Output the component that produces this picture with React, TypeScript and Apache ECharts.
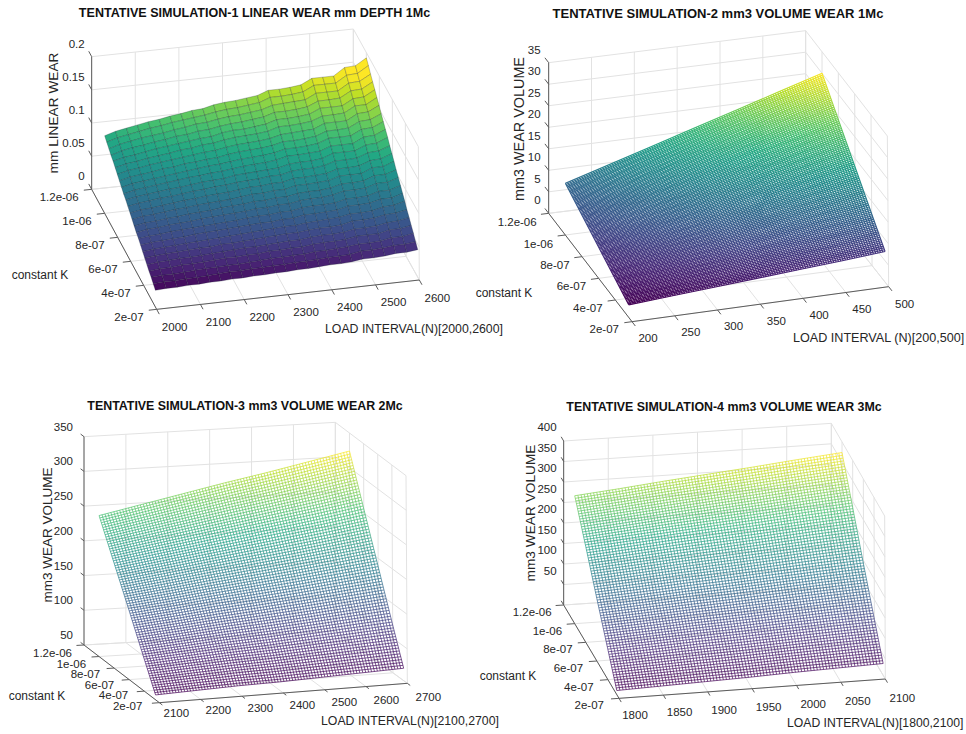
import React, { useEffect, useRef } from "react";
import * as echarts from "echarts";

const kTicks = [2e-7, 4e-7, 6e-7, 8e-7, 1e-6, 1.2e-6];
const kLabels = ["2e-07", "4e-07", "6e-07", "8e-07", "1e-06", "1.2e-06"];

const titles = [
  "TENTATIVE SIMULATION-1 LINEAR WEAR mm DEPTH 1Mc",
  "TENTATIVE SIMULATION-2 mm3 VOLUME WEAR 1Mc",
  "TENTATIVE SIMULATION-3 mm3 VOLUME WEAR 2Mc",
  "TENTATIVE SIMULATION-4 mm3 VOLUME WEAR 3Mc",
];
const loadTitles = ["LOAD INTERVAL(N)[2000,2600]", "LOAD INTERVAL (N)[200,500]", "LOAD INTERVAL(N)[2100,2700]", "LOAD INTERVAL(N)[1800,2100]"];
const zTitles = ["mm LINEAR WEAR", "mm3 WEAR VOLUME", "mm3 WEAR VOLUME", "mm3 WEAR VOLUME"];

const loadTicks1 = [2000, 2100, 2200, 2300, 2400, 2500, 2600];
const loadTicks2 = [200, 250, 300, 350, 400, 450, 500];
const loadTicks3 = [2100, 2200, 2300, 2400, 2500, 2600, 2700];
const loadTicks4 = [1800, 1850, 1900, 1950, 2000, 2050, 2100];
const zTicks1 = [0, 0.05, 0.1, 0.15, 0.2];
const zTicks2 = [0, 5, 10, 15, 20, 25, 30, 35];
const zTicks3 = [50, 100, 150, 200, 250, 300, 350];
const zTicks4 = [0, 50, 100, 150, 200, 250, 300, 350, 400];

const load1 = [2000, 2025, 2050, 2075, 2100, 2125, 2150, 2175, 2200, 2225, 2250, 2275, 2300, 2325, 2350, 2375, 2400, 2425, 2450, 2475, 2500, 2525, 2550, 2575, 2600];
const k1 = [2.2e-7, 2.53e-7, 2.85e-7, 3.18e-7, 3.5e-7, 3.83e-7, 4.15e-7, 4.48e-7, 4.8e-7, 5.13e-7, 5.45e-7, 5.78e-7, 6.1e-7, 6.43e-7, 6.75e-7, 7.08e-7, 7.4e-7, 7.73e-7, 8.05e-7, 8.38e-7, 8.7e-7, 9.03e-7, 9.35e-7, 9.68e-7, 1e-6];
// linear wear in micrometres (1e-3 mm), one row per k1 entry
const wear1 = [
  [25, 26, 26, 27, 27, 28, 28, 29, 29, 30, 30, 31, 31, 32, 32, 33, 34, 34, 35, 37, 37, 38, 40, 40, 42],
  [29, 30, 30, 31, 31, 32, 33, 34, 34, 35, 35, 36, 36, 37, 37, 38, 39, 39, 40, 43, 43, 44, 46, 46, 48],
  [33, 34, 34, 35, 36, 37, 37, 38, 38, 39, 40, 41, 41, 42, 42, 44, 44, 45, 46, 48, 48, 49, 52, 52, 55],
  [36, 38, 38, 40, 40, 41, 42, 43, 43, 44, 44, 46, 46, 47, 47, 49, 50, 50, 51, 54, 54, 54, 58, 58, 61],
  [40, 42, 43, 44, 44, 45, 46, 47, 48, 49, 49, 50, 51, 52, 52, 54, 55, 55, 56, 59, 59, 60, 63, 64, 67],
  [44, 46, 47, 48, 49, 50, 50, 52, 52, 53, 54, 55, 56, 57, 57, 59, 60, 60, 61, 65, 65, 66, 69, 70, 73],
  [48, 50, 51, 52, 53, 54, 55, 56, 57, 58, 59, 60, 61, 62, 62, 64, 65, 66, 67, 70, 70, 71, 75, 76, 80],
  [52, 54, 55, 56, 57, 59, 60, 61, 62, 63, 64, 65, 65, 67, 67, 70, 70, 71, 72, 76, 76, 77, 81, 81, 86],
  [56, 58, 59, 61, 62, 63, 64, 65, 66, 67, 69, 70, 70, 72, 72, 75, 76, 76, 77, 81, 81, 82, 87, 87, 92],
  [59, 62, 63, 65, 66, 67, 69, 70, 71, 72, 73, 75, 75, 77, 77, 80, 81, 81, 83, 87, 87, 88, 93, 93, 98],
  [63, 66, 67, 69, 70, 72, 73, 74, 76, 77, 78, 80, 80, 82, 82, 85, 86, 86, 88, 92, 92, 93, 99, 99, 104],
  [67, 70, 71, 73, 75, 76, 78, 79, 80, 81, 83, 85, 85, 87, 87, 91, 91, 92, 93, 98, 98, 98, 105, 105, 111],
  [71, 74, 75, 77, 79, 81, 82, 84, 85, 86, 88, 90, 90, 92, 92, 96, 96, 97, 98, 103, 103, 104, 110, 111, 117],
  [75, 78, 80, 82, 83, 85, 87, 88, 90, 91, 93, 94, 95, 97, 97, 101, 102, 102, 104, 109, 109, 110, 116, 117, 123],
  [79, 82, 84, 86, 88, 89, 91, 93, 94, 95, 98, 99, 100, 101, 102, 106, 107, 107, 109, 115, 115, 115, 122, 123, 130],
  [82, 86, 88, 90, 92, 94, 96, 97, 99, 100, 102, 104, 105, 106, 108, 112, 112, 113, 114, 120, 120, 120, 128, 129, 136],
  [86, 90, 92, 94, 96, 98, 100, 102, 104, 105, 107, 109, 110, 111, 113, 117, 117, 118, 120, 126, 126, 126, 134, 135, 142],
  [90, 94, 96, 98, 101, 102, 105, 106, 108, 109, 112, 114, 115, 116, 118, 122, 122, 123, 125, 131, 131, 132, 140, 141, 148],
  [94, 98, 100, 103, 105, 107, 109, 111, 113, 114, 117, 119, 120, 121, 123, 127, 128, 129, 130, 137, 137, 137, 146, 147, 155],
  [98, 102, 104, 107, 109, 111, 114, 115, 118, 119, 122, 124, 125, 126, 128, 133, 133, 134, 136, 142, 142, 143, 152, 152, 161],
  [102, 106, 108, 111, 114, 116, 118, 120, 122, 123, 127, 129, 129, 131, 133, 138, 138, 139, 141, 148, 148, 148, 157, 158, 167],
  [105, 110, 113, 115, 118, 120, 123, 124, 127, 128, 131, 133, 134, 136, 138, 143, 143, 144, 146, 153, 153, 154, 163, 164, 173],
  [109, 114, 117, 120, 122, 124, 127, 129, 132, 133, 136, 138, 139, 141, 143, 148, 149, 150, 151, 159, 159, 159, 169, 170, 179],
  [113, 118, 121, 124, 127, 129, 132, 134, 136, 138, 141, 143, 144, 146, 148, 154, 154, 155, 157, 165, 165, 165, 175, 176, 186],
  [117, 122, 125, 128, 131, 133, 136, 138, 141, 142, 146, 148, 149, 151, 153, 159, 159, 160, 162, 170, 170, 170, 181, 182, 192],
];

const k2 = [2.4e-7, 4e-7, 6e-7, 8e-7, 1e-6];
const wear2 = [
  [2.9, 3.6, 4.3, 5.0, 5.7, 6.4, 7.2],
  [4.8, 6.0, 7.2, 8.4, 9.6, 10.8, 12],
  [7.2, 9, 10.8, 12.6, 14.4, 16.2, 18],
  [9.6, 12, 14.4, 16.8, 19.2, 21.6, 24],
  [12, 15, 18, 21, 24, 27, 30],
];
const k3 = [2.5e-7, 4e-7, 6e-7, 8e-7, 1e-6];
const wear3 = [
  [57, 59, 61, 62, 64, 66, 68],
  [96, 100, 104, 107, 111, 115, 119],
  [149, 155, 162, 168, 174, 181, 188],
  [201, 210, 219, 228, 237, 246, 256],
  [253, 265, 277, 289, 300, 312, 324],
];
const k4 = [2.4e-7, 4e-7, 6e-7, 8e-7, 1e-6];
const wear4 = [
  [10, 13, 16, 19, 23, 26, 29],
  [73, 78, 83, 87, 92, 97, 101],
  [152, 158, 165, 171, 178, 185, 191],
  [233, 242, 251, 259, 267, 276, 284],
  [312, 322, 333, 343, 353, 364, 374],
];

const viridis = ["#440154", "#482475", "#414487", "#355f8d", "#2a788e", "#21918c", "#22a884", "#44bf70", "#7ad151", "#bddf26", "#fde725"];

const FONT = "'Liberation Sans', Arial, sans-serif";
const TICK = "#262626";

function colorAt(t: number) {
  const c = Math.max(0, Math.min(1, t)) * (viridis.length - 1);
  const i = Math.min(viridis.length - 2, Math.floor(c));
  return echarts.color.lerp(c - i, [viridis[i], viridis[i + 1]]) as string;
}

type Pt = [number, number];
// corners measured on the picture: [L,K,z] with 0=min, 1=max, origin offset added
function box(ox: number, oy: number, c: number[][]) {
  return c.map(([x, y]) => [ox + x / 3, oy + y / 3] as Pt);
}

const panels: any[] = [
  {
    corners: box(0, 0, [[470, 928], [1258, 840], [275, 568], [1060, 485], [470, 530], [1255, 440], [275, 170], [1060, 87]]),
    loads: loadTicks1, zs: zTicks1, zFmt: (v: number) => String(v),
    title: [254.5, 13], titleSize: 12.55, zSize: 13.7, lSize: 12.3,
    zT: [53.5, 113], kT: [40, 275], lT: [325, 329],
    zOff: [-7, -13], kOff: [[-13, 7.5], [-13, 8]], lOff: [[18, 18], [18, 17.5]],
  },
  {
    corners: box(483, 0, [[447, 965], [1217, 860], [197, 640], [968, 544], [447, 513], [1213, 408], [197, 188], [968, 92]]),
    loads: loadTicks2, zs: zTicks2, zFmt: (v: number) => String(v),
    title: [718, 13], titleSize: 13, zSize: 14.4, lSize: 12.6,
    zT: [519, 129], kT: [504, 293], lT: [793, 338],
    zOff: [-8, -13], kOff: [[-13, 7.5], [-12, 9]], lOff: [[16, 16], [16, 17]],
    ks: k2, table: wear2, rows: 100, cols: 110, lw: 1.1, gamma: 1,
  },
  {
    corners: box(0, 380, [[478, 968], [1222, 910], [252, 795], [1006, 752], [478, 343], [1218, 287], [252, 170], [1006, 127]]),
    loads: loadTicks3, zs: zTicks3, zFmt: (v: number) => String(v),
    title: [245, 405.5], titleSize: 12.4, zSize: 13.5, lSize: 12.3,
    zT: [47, 535], kT: [37, 696], lT: [321, 721],
    zOff: [-11, -10], kOff: [[-17, 3], [-12, 8]], lOff: [[17, 10], [21, 14]],
    ks: k3, table: wear3, rows: 75, cols: 85, lw: 0.7, gamma: 1.2,
  },
  {
    corners: box(483, 380, [[408, 955], [1207, 897], [242, 675], [1045, 622], [408, 463], [1205, 408], [242, 183], [1045, 130]]),
    loads: loadTicks4, zs: zTicks4, zFmt: (v: number) => (v === 0 ? "" : String(v)),
    title: [724, 407], titleSize: 12.4, zSize: 13.7, lSize: 12.2,
    zT: [530, 513], kT: [508, 676], lT: [787, 723],
    zOff: [-7, -14], kOff: [[-15, 7], [-12, 7]], lOff: [[16, 17], [17, 19]],
    ks: k4, table: wear4, rows: 75, cols: 85, lw: 0.7, gamma: 1.2,
  },
];

function projector(p: any) {
  const L0 = p.loads[0], L1 = p.loads[p.loads.length - 1];
  const K0 = kTicks[0], K1 = kTicks[kTicks.length - 1];
  const Z0 = p.zs[0], Z1 = p.zs[p.zs.length - 1];
  const c: Pt[] = p.corners;
  return (L: number, K: number, z: number): Pt => {
    const u = (L - L0) / (L1 - L0), v = (K - K0) / (K1 - K0), w = (z - Z0) / (Z1 - Z0);
    const mix = (i: number) =>
      (1 - w) * ((1 - v) * ((1 - u) * c[0][i] + u * c[1][i]) + v * ((1 - u) * c[2][i] + u * c[3][i])) +
      w * ((1 - v) * ((1 - u) * c[4][i] + u * c[5][i]) + v * ((1 - u) * c[6][i] + u * c[7][i]));
    return [mix(0), mix(1)];
  };
}

function frameSeries(p: any, idx: number) {
  const P = projector(p);
  const Ls: number[] = p.loads, Zs: number[] = p.zs;
  const L0 = Ls[0], L1 = Ls[Ls.length - 1], K0 = kTicks[0], K1 = kTicks[kTicks.length - 1], Z0 = Zs[0], Z1 = Zs[Zs.length - 1];
  const grid: Pt[][] = [];
  const dark: Pt[][] = [];
  Ls.forEach((L) => {
    grid.push([P(L, K0, Z0), P(L, K1, Z0)], [P(L, K1, Z0), P(L, K1, Z1)]);
    dark.push([P(L, K0, Z0), P(L, K0 - 0.04 * (K1 - K0), Z0)]);
  });
  kTicks.forEach((K) => {
    grid.push([P(L0, K, Z0), P(L1, K, Z0)], [P(L1, K, Z0), P(L1, K, Z1)]);
    dark.push([P(L0, K, Z0), P(L0 - 0.03 * (L1 - L0), K, Z0)]);
  });
  Zs.forEach((z) => {
    grid.push([P(L0, K1, z), P(L1, K1, z)], [P(L1, K1, z), P(L1, K0, z)]);
    dark.push([P(L0, K1, z), P(L0, K1 + 0.045 * (K1 - K0), z)]);
  });
  dark.push([P(L0, K1, Z0), P(L0, K1, Z1)], [P(L0, K0, Z0), P(L0, K1, Z0)], [P(L0, K0, Z0), P(L1, K0, Z0)]);
  const segs = [...grid.map((s) => ({ s, d: false })), ...dark.map((s) => ({ s, d: true }))];
  return {
    type: "custom", id: "frame" + idx, silent: true, clip: false, z: 1,
    coordinateSystem: "cartesian2d",
    data: segs.map((_, i) => i),
    renderItem: (params: any, api: any) => {
      const g = segs[params.dataIndex];
      const a = api.coord(g.s[0]), b = api.coord(g.s[1]);
      return {
        type: "line", shape: { x1: a[0], y1: a[1], x2: b[0], y2: b[1] },
        style: { stroke: g.d ? "#5c5c5c" : "#e2e2e2", lineWidth: 1 },
      };
    },
  };
}

function labelSeries(p: any, idx: number) {
  const P = projector(p);
  const Ls: number[] = p.loads, Zs: number[] = p.zs;
  const L0 = Ls[0], K0 = kTicks[0], K1 = kTicks[kTicks.length - 1], Z0 = Zs[0];
  const items: any[] = [];
  const lerp = (o: number[][], t: number) => [o[0][0] + (o[1][0] - o[0][0]) * t, o[0][1] + (o[1][1] - o[0][1]) * t];
  Zs.forEach((z) => {
    const t = p.zFmt(z);
    if (t) items.push({ t, at: P(L0, K1, z), off: p.zOff, align: "right" });
  });
  kTicks.forEach((K, i) => items.push({ t: kLabels[i], at: P(L0, K, Z0), off: lerp(p.kOff, i / (kTicks.length - 1)), align: "right" }));
  Ls.forEach((L, i) => items.push({ t: String(L), at: P(L, K0, Z0), off: lerp(p.lOff, i / (Ls.length - 1)), align: "center" }));
  items.push({ t: zTitles[idx], at: p.zT, off: [0, 0], align: "center", rot: Math.PI / 2, size: p.zSize });
  items.push({ t: "constant K", at: p.kT, off: [0, 0], align: "center", size: 12 });
  items.push({ t: loadTitles[idx], at: p.lT, off: [0, 0], align: "left", size: p.lSize });
  return {
    type: "custom", id: "labels" + idx, silent: true, clip: false, z: 5,
    coordinateSystem: "cartesian2d",
    data: items.map((_, i) => i),
    renderItem: (params: any, api: any) => {
      const it = items[params.dataIndex];
      const a = api.coord([it.at[0] + it.off[0], it.at[1] + it.off[1]]);
      return {
        type: "text", x: a[0], y: a[1], rotation: it.rot || 0,
        style: { text: it.t, fill: TICK, fontFamily: FONT, fontSize: it.size || 11.5, align: it.align, verticalAlign: "middle" },
      };
    },
  };
}

function faceSeries(p: any, idx: number) {
  const P = projector(p);
  const lo = 25, hi = 178;
  const cells: any[] = [];
  for (let r = wear1.length - 2; r >= 0; r--) {
    for (let c = 0; c < load1.length - 1; c++) {
      const pts = [
        P(load1[c], k1[r], wear1[r][c] / 1000),
        P(load1[c + 1], k1[r], wear1[r][c + 1] / 1000),
        P(load1[c + 1], k1[r + 1], wear1[r + 1][c + 1] / 1000),
        P(load1[c], k1[r + 1], wear1[r + 1][c] / 1000),
      ];
      const m = (wear1[r + 1][c] + wear1[r + 1][c + 1]) / 2;
      cells.push({ pts, col: colorAt((m - lo) / (hi - lo)) });
    }
  }
  return {
    type: "custom", id: "faces" + idx, silent: true, clip: false, z: 3,
    coordinateSystem: "cartesian2d",
    data: cells.map((_, i) => i),
    renderItem: (params: any, api: any) => {
      const f = cells[params.dataIndex];
      return {
        type: "polygon", shape: { points: f.pts.map((q: Pt) => api.coord(q)) },
        style: { fill: f.col, stroke: "rgba(10,20,30,0.38)", lineWidth: 0.6 },
      };
    },
  };
}

function meshSeries(p: any, idx: number) {
  const P = projector(p);
  const Ls: number[] = p.loads, ks: number[] = p.ks, tb: number[][] = p.table;
  const flat = tb.flat();
  const lo = Math.min(...flat), hi = Math.max(...flat);
  const tone = (z: number) => colorAt(Math.pow((z - lo) / (hi - lo), p.gamma));
  const at = (i: number, v: number) => {
    const j = Math.min(ks.length - 2, Math.floor(v));
    return tb[j][i] + (tb[j + 1][i] - tb[j][i]) * (v - j);
  };
  const lines: any[] = [];
  for (let r = 0; r <= p.rows; r++) {
    const K = ks[0] + ((ks[ks.length - 1] - ks[0]) * r) / p.rows;
    let v = 0;
    while (v < ks.length - 2 && K > ks[v + 1]) v++;
    const vv = v + (K - ks[v]) / (ks[v + 1] - ks[v]);
    const pts: Pt[] = [], stops: any[] = [];
    Ls.forEach((L, i) => {
      const z = at(i, vv);
      pts.push(P(L, K, z));
      stops.push({ offset: i / (Ls.length - 1), color: tone(z) });
    });
    lines.push({ pts, stops });
  }
  for (let c = 0; c <= p.cols; c++) {
    const u = (c / p.cols) * (Ls.length - 1);
    const i = Math.min(Ls.length - 2, Math.floor(u));
    const L = Ls[i] + (Ls[i + 1] - Ls[i]) * (u - i);
    const pts: Pt[] = [], stops: any[] = [];
    ks.forEach((K, j) => {
      const z = tb[j][i] + (tb[j][i + 1] - tb[j][i]) * (u - i);
      pts.push(P(L, K, z));
      stops.push({ offset: (K - ks[0]) / (ks[ks.length - 1] - ks[0]), color: tone(z) });
    });
    lines.push({ pts, stops });
  }
  return {
    type: "custom", id: "mesh" + idx, silent: true, clip: false, z: 3,
    coordinateSystem: "cartesian2d",
    data: lines.map((_, i) => i),
    renderItem: (params: any, api: any) => {
      const l = lines[params.dataIndex];
      const pts = l.pts.map((q: Pt) => api.coord(q));
      const a = pts[0], b = pts[pts.length - 1];
      return {
        type: "polyline", shape: { points: pts },
        style: {
          fill: "none", lineWidth: p.lw,
          stroke: new echarts.graphic.LinearGradient(a[0], a[1], b[0], b[1], l.stops, true),
        },
      };
    },
  };
}

export default function App() {
  const ref = useRef<HTMLDivElement>(null);
  useEffect(() => {
    document.body.style.margin = "0";
    const chart = echarts.init(ref.current!, undefined, { renderer: "svg" });
    const series: any[] = [];
    panels.forEach((p, i) => {
      series.push(frameSeries(p, i));
      series.push(i === 0 ? faceSeries(p, i) : meshSeries(p, i));
      series.push(labelSeries(p, i));
    });
    chart.setOption({
      animation: false,
      backgroundColor: "#ffffff",
      title: panels.map((p, i) => ({
        text: titles[i], left: p.title[0], top: p.title[1], textAlign: "center", textVerticalAlign: "middle", padding: 0,
        textStyle: { fontFamily: FONT, fontSize: p.titleSize, fontWeight: "bold", color: "#111111" },
      })),
      grid: { left: 0, right: 0, top: 0, bottom: 0 },
      xAxis: { type: "value", min: 0, max: 966, show: false },
      yAxis: { type: "value", min: 0, max: 734, inverse: true, show: false },
      series,
    });
    return () => chart.dispose();
  }, []);
  return <div ref={ref} style={{ position: "fixed", left: 0, top: 0, width: 966, height: 734 }} />;
}
